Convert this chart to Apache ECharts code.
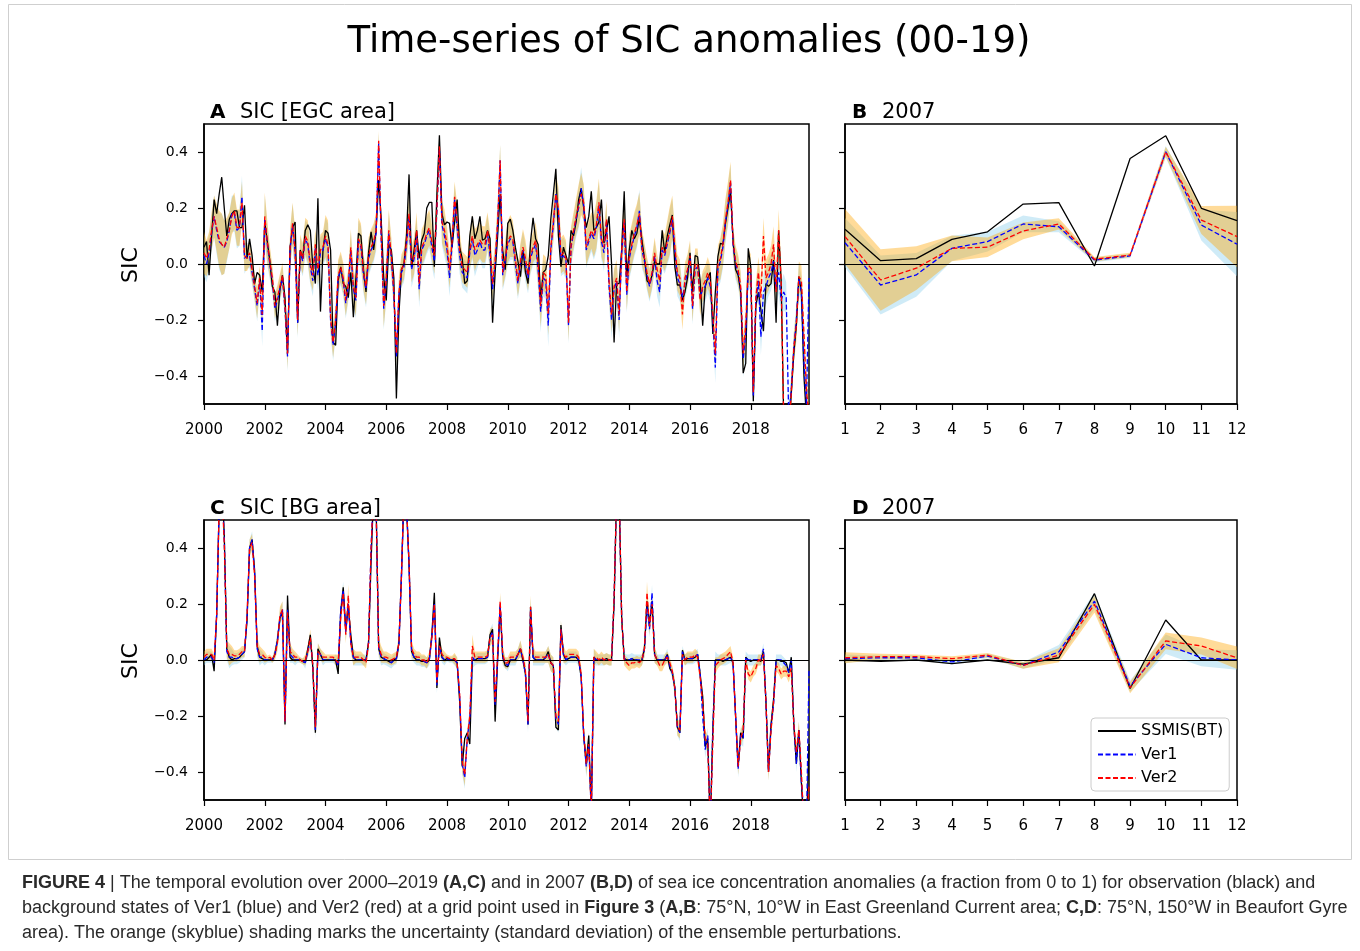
<!DOCTYPE html>
<html><head><meta charset="utf-8">
<script src="https://cdn.jsdelivr.net/npm/echarts@6/dist/echarts.min.js"></script>
<style>html,body{margin:0;padding:0;background:#fff}#c{width:1360px;height:951px}</style>
</head><body><div id="c"></div>
<script>
// ---------- DATA ----------
const startYear = 2000, nYears = 20;
const monthCats = [];
for (let y = startYear; y < startYear + nYears; y++) for (let m = 1; m <= 12; m++) monthCats.push(y + '-' + (m < 10 ? '0' + m : m));
const monthNums = ['1','2','3','4','5','6','7','8','9','10','11','12'];
const yTicks = [-0.4, -0.2, 0, 0.2, 0.4];

// Panel A (EGC area) monthly anomalies 2000-2019
const obsA = [
0.06,0.08,-0.04,0.10,0.23,0.18,0.25,0.31,0.20,0.10,
0.16,0.18,0.19,0.19,0.13,0.13,0.21,0.02,0.09,0.03,
-0.07,-0.03,-0.04,-0.10,0.15,0.08,0.01,-0.08,-0.10,-0.22,
-0.09,-0.04,-0.12,-0.32,0.06,0.13,0.15,-0.21,0.05,0.02,
0.12,0.14,0.12,-0.01,-0.07,0.235,-0.17,0.05,0.12,0.11,
0.05,-0.28,-0.29,-0.06,-0.01,-0.07,-0.08,-0.12,-0.03,-0.19,
-0.05,0.11,0.10,-0.02,-0.10,0.04,0.115,0.05,0.12,0.30,
0.16,-0.05,-0.13,0.07,0.05,-0.05,-0.48,-0.18,-0.02,0.00,
0.10,0.32,-0.01,0.05,0.12,0.02,0.085,0.11,0.20,0.22,
0.22,-0.01,0.25,0.46,0.18,0.14,0.15,0.145,0.06,0.15,
0.23,0.06,0.02,-0.07,-0.06,0.10,0.17,0.09,0.12,0.17,
0.085,0.09,0.12,0.09,-0.21,-0.03,0.10,0.25,0.05,-0.02,
0.145,0.16,0.12,0.06,0.01,-0.045,0.05,-0.03,-0.07,0.08,
0.165,0.09,0.07,-0.13,-0.03,-0.02,0.03,0.16,0.25,0.34,
0.10,-0.01,0.06,0.03,0.00,0.12,0.10,0.15,0.23,0.27,
0.20,0.13,0.17,0.26,0.12,0.13,0.15,0.23,0.075,0.12,
0.17,0.00,-0.28,-0.07,-0.07,0.05,0.26,-0.045,0.05,0.12,
0.09,0.11,0.165,0.085,0.02,-0.06,-0.07,-0.04,0.01,0.00,
0.00,0.12,0.04,0.10,0.14,0.175,-0.01,-0.075,-0.075,-0.13,
-0.10,-0.05,0.04,-0.10,0.03,0.026,-0.06,-0.22,-0.08,-0.05,
-0.03,-0.25,-0.10,0.026,0.074,0.07,0.145,0.20,0.26,0.085,
-0.02,-0.04,-0.10,-0.39,-0.355,0.056,-0.01,-0.49,-0.15,-0.10,
-0.165,-0.24,-0.07,-0.08,-0.07,0.014,-0.21,0.12,-0.06,-0.55,
-0.60,-0.60,-0.46,-0.32,-0.22,-0.045,-0.10,-0.40,-0.55,-0.60];
const ver1A = [
0.03,0.00,0.04,0.11,0.17,0.12,0.08,0.07,0.06,0.08,
0.12,0.18,0.18,0.12,0.13,0.24,0.02,0.03,0.03,-0.03,
-0.09,-0.15,-0.06,-0.24,0.16,0.07,0.00,-0.06,-0.16,-0.13,
-0.09,-0.05,-0.16,-0.33,0.05,0.14,0.04,-0.21,0.04,0.01,
0.09,0.07,-0.01,-0.06,0.06,-0.04,0.04,0.05,0.09,0.06,
-0.20,-0.29,-0.21,-0.05,-0.02,-0.06,-0.14,-0.08,0.05,-0.09,
-0.13,0.08,0.06,-0.04,-0.09,0.02,0.05,0.07,0.11,0.43,
0.09,-0.16,-0.06,0.11,0.02,-0.11,-0.33,-0.11,-0.03,-0.01,
0.07,0.17,-0.02,0.02,0.10,-0.09,0.05,0.07,0.10,0.12,
0.06,0.01,0.19,0.41,0.14,0.10,0.05,-0.05,0.07,0.23,
0.13,0.03,-0.03,-0.04,-0.05,0.04,0.09,0.03,0.05,0.08,
0.05,0.05,0.11,0.03,-0.09,0.00,0.14,0.37,-0.04,0.01,
0.07,0.09,0.08,0.00,-0.07,0.00,0.05,0.00,-0.05,0.02,
0.05,0.07,-0.02,-0.17,-0.05,-0.06,-0.22,0.05,0.14,0.25,
0.19,0.02,0.03,0.01,-0.22,0.06,0.11,0.16,0.20,0.27,
0.21,0.05,0.08,0.11,0.09,0.13,0.21,0.08,0.04,0.15,
-0.08,-0.20,-0.09,-0.06,-0.20,0.04,0.15,-0.11,0.02,0.06,
0.10,0.13,0.19,0.05,0.01,-0.04,-0.08,-0.04,0.03,-0.06,
-0.10,0.05,0.03,0.07,0.11,0.16,0.05,-0.05,-0.07,-0.12,
-0.07,-0.03,0.02,-0.16,-0.02,-0.01,-0.12,-0.09,-0.08,-0.05,
-0.08,-0.20,-0.37,-0.02,0.01,0.06,0.15,0.21,0.29,0.07,
0.00,-0.03,-0.09,-0.34,-0.25,-0.03,-0.03,-0.47,-0.13,-0.06,
-0.26,-0.10,-0.08,-0.05,-0.03,0.01,-0.09,-0.03,-0.13,-0.10,
-0.12,-0.55,-0.45,-0.30,-0.20,-0.05,-0.10,-0.35,-0.50,-0.05];
const ver2A = [
0.04,0.02,0.05,0.12,0.17,0.13,0.09,0.07,0.06,0.09,
0.12,0.17,0.19,0.13,0.13,0.22,0.03,0.02,0.04,-0.02,
-0.08,-0.14,-0.05,-0.18,0.17,0.08,0.01,-0.05,-0.15,-0.12,
-0.08,-0.04,-0.15,-0.32,0.06,0.145,0.05,-0.20,0.05,0.02,
0.10,0.08,0.00,-0.04,0.07,-0.02,0.05,0.06,0.10,0.07,
-0.19,-0.28,-0.20,-0.04,-0.01,-0.05,-0.13,-0.07,0.06,-0.08,
-0.12,0.09,0.07,-0.03,-0.08,0.03,0.06,0.08,0.12,0.44,
0.10,-0.15,-0.05,0.12,0.03,-0.10,-0.32,-0.10,-0.02,0.00,
0.08,0.18,0.00,0.03,0.12,-0.07,0.06,0.08,0.11,0.13,
0.08,0.03,0.20,0.42,0.15,0.12,0.07,-0.02,0.08,0.24,
0.15,0.05,-0.01,-0.02,-0.03,0.05,0.10,0.05,0.07,0.085,
0.07,0.07,0.12,0.05,-0.07,0.01,0.15,0.37,-0.03,0.02,
0.08,0.10,0.09,0.02,-0.06,0.01,0.06,0.02,-0.04,0.03,
0.06,0.085,0.00,-0.15,-0.03,-0.04,-0.18,0.06,0.15,0.25,
0.20,0.03,0.04,0.02,-0.21,0.07,0.12,0.17,0.21,0.25,
0.22,0.06,0.09,0.12,0.10,0.14,0.22,0.09,0.06,0.16,
-0.06,-0.18,-0.08,-0.05,-0.18,0.05,0.16,-0.10,0.03,0.07,
0.11,0.14,0.18,0.06,0.02,-0.03,-0.07,-0.03,0.04,-0.02,
-0.06,0.06,0.04,0.08,0.12,0.17,0.06,-0.03,-0.05,-0.18,
-0.05,-0.02,0.03,-0.15,0.00,0.00,-0.13,-0.08,-0.06,-0.03,
-0.06,-0.18,-0.32,0.00,0.02,0.07,0.16,0.22,0.30,0.08,
0.01,-0.02,-0.08,-0.32,-0.22,-0.01,-0.02,-0.46,-0.12,-0.03,
-0.12,0.10,-0.05,-0.03,0.00,0.07,-0.10,0.12,-0.06,-0.55,
-0.60,-0.60,-0.46,-0.30,-0.22,-0.045,-0.06,-0.25,-0.45,-0.55];
const sdA = [
0.075,0.065,0.065,0.065,0.075,0.085,0.10,0.11,0.095,0.075,0.065,0.065,0.065,0.065,0.065,0.075,0.055,0.045,0.045,0.045,
0.045,0.055,0.045,0.055,0.085,0.075,0.055,0.045,0.045,0.045,0.045,0.045,0.045,0.055,0.065,0.075,0.075,0.055,0.055,0.055,
0.065,0.075,0.065,0.055,0.055,0.055,0.055,0.055,0.075,0.085,0.055,0.055,0.055,0.055,0.055,0.055,0.055,0.055,0.065,0.065,
0.065,0.075,0.075,0.065,0.065,0.065,0.065,0.065,0.065,0.035,0.075,0.075,0.075,0.075,0.065,0.055,0.045,0.055,0.055,0.055,
0.065,0.075,0.065,0.065,0.065,0.065,0.065,0.065,0.065,0.065,0.065,0.065,0.065,0.045,0.075,0.075,0.065,0.065,0.065,0.055,
0.065,0.065,0.055,0.055,0.055,0.065,0.075,0.075,0.065,0.065,0.065,0.065,0.065,0.065,0.065,0.065,0.075,0.055,0.055,0.065,
0.075,0.075,0.065,0.055,0.055,0.065,0.065,0.065,0.055,0.055,0.055,0.065,0.075,0.075,0.065,0.065,0.075,0.065,0.065,0.075,
0.075,0.065,0.065,0.065,0.065,0.065,0.065,0.065,0.075,0.075,0.065,0.065,0.065,0.065,0.075,0.085,0.085,0.065,0.065,0.065,
0.065,0.065,0.065,0.065,0.065,0.075,0.075,0.065,0.075,0.075,0.075,0.075,0.075,0.065,0.055,0.055,0.055,0.055,0.055,0.055,
0.055,0.065,0.065,0.075,0.085,0.075,0.065,0.065,0.065,0.055,0.055,0.055,0.055,0.055,0.055,0.055,0.055,0.055,0.055,0.055,
0.055,0.055,0.055,0.065,0.075,0.075,0.075,0.075,0.065,0.055,0.055,0.055,0.055,0.065,0.065,0.065,0.055,0.045,0.055,0.055,
0.065,0.065,0.065,0.065,0.065,0.065,0.065,0.075,0.065,0.065,0.055,0.055,0.055,0.055,0.055,0.055,0.055,0.055,0.055,0.055];

// Panel C (BG area) monthly anomalies 2000-2019
const obsC = [
0.00,0.00,0.01,0.02,-0.04,0.16,0.55,0.65,0.45,0.04,
0.01,0.00,0.005,0.005,0.01,0.02,0.03,0.14,0.40,0.43,
0.32,0.05,0.01,0.005,0.00,0.00,0.00,0.00,0.02,0.07,
0.15,0.17,-0.23,0.23,0.01,0.00,0.00,0.00,0.00,-0.005,
-0.01,0.04,0.09,-0.03,-0.26,0.04,0.02,0.00,0.00,0.00,
0.00,0.00,0.00,-0.05,0.17,0.26,0.11,0.19,0.09,0.01,
0.00,0.00,0.00,0.00,0.00,0.06,0.35,0.60,0.55,0.04,
0.01,0.005,0.00,-0.005,-0.01,0.00,0.005,0.06,0.30,0.60,
0.55,0.34,0.03,0.01,0.00,0.00,-0.005,-0.005,-0.01,0.00,
0.09,0.24,-0.10,0.08,0.01,0.00,0.005,0.00,0.00,0.00,
-0.01,-0.15,-0.38,-0.28,-0.26,-0.30,0.00,0.00,0.005,0.005,
0.005,0.005,0.01,0.09,0.11,-0.22,0.00,0.19,0.01,-0.02,
-0.024,0.00,0.00,0.00,0.02,0.04,0.00,-0.05,-0.23,0.19,
0.01,0.00,0.00,0.00,0.00,0.01,0.03,-0.01,-0.02,-0.24,
-0.25,0.125,0.02,0.00,0.005,0.01,0.01,0.01,0.00,-0.06,
-0.27,-0.37,-0.27,-0.55,0.01,0.00,0.00,0.00,0.00,0.005,
0.00,0.00,0.20,0.60,0.60,0.15,0.005,0.00,0.00,0.005,
0.00,0.00,-0.005,0.00,0.04,0.21,0.13,0.21,0.02,0.00,
0.00,0.00,0.00,0.02,-0.03,-0.045,-0.10,-0.24,-0.26,0.035,
0.00,0.005,0.005,0.005,0.01,0.02,-0.05,-0.13,-0.31,-0.28,
-0.60,-0.25,0.00,0.00,0.00,-0.005,0.00,0.005,0.01,-0.01,
-0.20,-0.38,-0.26,-0.28,0.01,0.00,-0.005,0.00,0.00,0.00,
-0.005,0.03,-0.15,-0.40,-0.23,-0.14,0.00,0.00,-0.005,-0.005,
-0.01,-0.045,0.01,-0.23,-0.37,-0.25,-0.44,-0.60,-0.60,-0.30];
const ver1C = [
0.00,0.01,0.01,0.01,-0.01,0.16,0.55,0.63,0.44,0.03,
0.01,0.01,0.005,0.005,0.01,0.02,0.03,0.15,0.40,0.43,
0.31,0.04,0.01,0.01,0.00,0.00,0.00,0.00,0.02,0.07,
0.15,0.18,-0.22,0.18,0.02,0.01,0.00,0.00,0.00,-0.005,
-0.01,0.03,0.07,-0.02,-0.25,0.03,0.02,0.00,0.00,0.00,
0.00,0.00,0.00,-0.02,0.18,0.25,0.10,0.20,0.06,0.01,
0.00,0.00,0.00,0.00,0.00,0.06,0.40,0.60,0.55,0.04,
0.01,0.005,0.00,-0.005,-0.01,0.00,0.005,0.06,0.30,0.60,
0.55,0.34,0.03,0.01,0.00,0.00,-0.005,-0.005,-0.01,0.00,
0.08,0.20,-0.09,0.05,0.01,0.00,0.005,0.00,0.00,0.00,
-0.01,-0.13,-0.37,-0.42,-0.28,-0.21,0.01,0.00,0.005,0.005,
0.005,0.005,0.01,0.08,0.10,-0.16,0.01,0.20,0.01,-0.01,
-0.02,0.00,0.00,0.00,0.02,0.04,0.00,-0.05,-0.23,0.18,
0.01,0.00,0.00,0.00,0.00,0.01,0.02,-0.01,-0.02,-0.21,
-0.23,0.11,0.02,0.00,0.01,0.01,0.01,0.01,0.00,-0.06,
-0.27,-0.38,-0.30,-0.55,0.01,0.00,0.00,0.00,0.00,0.005,
0.00,0.00,0.21,0.60,0.60,0.15,0.005,0.00,0.00,0.005,
0.00,0.00,0.00,0.00,0.04,0.19,0.11,0.24,0.02,0.00,
0.00,0.00,0.00,0.02,-0.02,-0.045,-0.10,-0.24,-0.26,0.03,
0.00,0.005,0.005,0.005,0.01,0.02,-0.05,-0.20,-0.32,-0.27,
-0.60,-0.25,0.00,0.00,0.00,0.00,0.00,0.005,0.01,-0.01,
-0.20,-0.39,-0.27,-0.28,0.01,0.00,0.00,0.00,0.00,0.00,
0.00,0.04,-0.15,-0.40,-0.24,-0.16,0.00,0.00,0.00,-0.01,
-0.02,-0.045,0.00,-0.23,-0.37,-0.25,-0.44,-0.55,-0.60,-0.03];
const ver2C = [
0.01,0.02,0.02,0.02,0.00,0.16,0.55,0.62,0.42,0.04,
0.02,0.02,0.015,0.015,0.02,0.03,0.03,0.16,0.40,0.42,
0.30,0.05,0.02,0.02,0.01,0.005,0.01,0.00,0.02,0.06,
0.16,0.18,-0.22,0.17,0.03,0.02,0.01,0.01,0.00,-0.005,
0.00,0.03,0.08,-0.02,-0.24,0.03,0.02,0.01,0.01,0.01,
0.01,0.01,0.00,-0.01,0.15,0.24,0.09,0.23,0.06,0.01,
0.01,0.01,0.01,0.00,-0.01,0.06,0.40,0.60,0.55,0.05,
0.02,0.01,0.01,0.005,0.00,0.005,0.01,0.06,0.30,0.60,
0.55,0.35,0.04,0.02,0.01,0.01,0.00,0.00,-0.01,0.01,
0.08,0.20,-0.08,0.05,0.02,0.01,0.01,0.005,0.005,0.005,
-0.01,-0.12,-0.36,-0.41,-0.28,-0.20,0.05,0.01,0.01,0.01,
0.01,0.01,0.015,0.08,0.09,-0.15,0.02,0.21,0.02,-0.01,
-0.01,0.01,0.01,0.01,0.02,0.04,0.01,-0.04,-0.22,0.19,
0.02,0.01,0.01,0.01,0.01,0.01,0.02,-0.01,-0.02,-0.20,
-0.22,0.11,0.02,0.01,0.02,0.02,0.02,0.02,0.01,-0.05,
-0.26,-0.37,-0.30,-0.55,0.01,0.01,0.00,0.01,0.00,0.005,
0.00,0.00,0.22,0.60,0.60,0.15,0.00,-0.01,-0.02,-0.01,
-0.01,-0.005,-0.01,0.00,0.04,0.24,0.12,0.20,0.02,0.00,
-0.02,-0.02,0.00,0.01,-0.01,-0.04,-0.10,-0.24,-0.25,0.02,
0.00,0.01,0.01,0.01,0.02,0.01,-0.06,-0.15,-0.28,-0.30,
-0.60,-0.30,-0.02,-0.01,0.00,0.005,0.01,0.02,0.03,-0.01,
-0.20,-0.38,-0.28,-0.25,0.00,-0.05,-0.06,-0.04,-0.03,0.00,
0.00,0.02,-0.15,-0.40,-0.25,-0.15,-0.02,-0.03,-0.05,-0.04,
-0.04,-0.06,-0.03,-0.23,-0.33,-0.25,-0.40,-0.60,-0.60,-0.45];
const sdC = [
0.02,0.02,0.02,0.02,0.02,0.02,0.03,0.03,0.03,0.03,0.04,0.03,0.02,0.02,0.02,0.02,0.02,0.03,0.03,0.03,
0.03,0.03,0.03,0.02,0.02,0.01,0.01,0.01,0.02,0.03,0.03,0.03,0.03,0.03,0.03,0.02,0.02,0.01,0.01,0.01,
0.02,0.02,0.03,0.03,0.03,0.03,0.02,0.02,0.01,0.01,0.01,0.01,0.02,0.03,0.03,0.03,0.03,0.04,0.03,0.03,
0.02,0.02,0.02,0.02,0.02,0.03,0.03,0.03,0.03,0.03,0.03,0.02,0.02,0.02,0.02,0.02,0.02,0.03,0.03,0.03,
0.03,0.03,0.03,0.02,0.02,0.02,0.02,0.02,0.02,0.02,0.03,0.03,0.03,0.03,0.02,0.02,0.01,0.01,0.01,0.02,
0.02,0.03,0.04,0.04,0.03,0.03,0.04,0.02,0.02,0.02,0.02,0.02,0.02,0.03,0.03,0.03,0.02,0.03,0.03,0.02,
0.02,0.02,0.02,0.02,0.02,0.03,0.02,0.03,0.03,0.04,0.03,0.02,0.02,0.02,0.02,0.02,0.03,0.03,0.03,0.03,
0.03,0.03,0.03,0.02,0.02,0.02,0.02,0.02,0.02,0.03,0.03,0.04,0.04,0.04,0.03,0.02,0.02,0.02,0.02,0.02,
0.02,0.02,0.03,0.03,0.03,0.03,0.02,0.02,0.02,0.02,0.02,0.02,0.02,0.02,0.03,0.04,0.03,0.03,0.03,0.02,
0.02,0.02,0.02,0.02,0.02,0.02,0.03,0.03,0.03,0.02,0.02,0.02,0.02,0.02,0.02,0.02,0.03,0.03,0.03,0.03,
0.03,0.03,0.03,0.02,0.02,0.02,0.02,0.02,0.02,0.02,0.03,0.03,0.03,0.03,0.02,0.02,0.02,0.02,0.02,0.02,
0.02,0.02,0.03,0.03,0.03,0.03,0.02,0.02,0.02,0.02,0.02,0.02,0.02,0.03,0.03,0.03,0.03,0.03,0.03,0.03];

// Panel B (EGC, 2007) and D (BG, 2007)
const obsB  = [0.124,0.012,0.019,0.088,0.115,0.214,0.219,-0.007,0.377,0.458,0.199,0.155];
const ver1B = [0.076,-0.075,-0.039,0.056,0.080,0.143,0.133,0.014,0.029,0.401,0.139,0.071];
const ver2B = [0.098,-0.057,-0.015,0.056,0.060,0.118,0.143,0.017,0.032,0.401,0.157,0.098];
const sd1B  = [0.088,0.105,0.078,0.045,0.035,0.030,0.020,0.008,0.008,0.020,0.055,0.115];
const sd2B  = [0.098,0.110,0.078,0.046,0.035,0.030,0.020,0.008,0.008,0.018,0.050,0.110];
const obsD  = [0.000,-0.005,0.000,-0.013,0.000,-0.015,0.008,0.237,-0.102,0.143,0.000,0.000];
const ver1D = [0.005,0.008,0.008,-0.007,0.014,-0.019,0.029,0.210,-0.093,0.056,0.008,0.000];
const ver2D = [0.008,0.012,0.012,0.005,0.017,-0.019,0.017,0.199,-0.099,0.068,0.050,0.008];
const sd1D  = [0.015,0.008,0.008,0.008,0.008,0.012,0.025,0.030,0.020,0.035,0.030,0.035];
const sd2D  = [0.020,0.010,0.008,0.008,0.008,0.012,0.025,0.030,0.020,0.030,0.030,0.040];

// ---------- CHART ----------
const FONT = 'DejaVu Sans';
const chart = echarts.init(document.getElementById('c'), null, {renderer: 'canvas'});
const grids = [
  {left: 204, top: 124, width: 605, height: 280},
  {left: 845, top: 124, width: 392, height: 280},
  {left: 204, top: 520, width: 605, height: 280},
  {left: 845, top: 520, width: 392, height: 280}
];
const fmtY = v => (v < 0 ? '\u2212' : '') + Math.abs(v).toFixed(1);
function xAx(i, monthly) {
  return {
    type: 'category', gridIndex: i, data: monthly ? monthCats : monthNums, boundaryGap: false,
    axisLine: {show: true, onZero: false, lineStyle: {color: '#000', width: 1.5}},
    axisTick: {show: true, interval: monthly ? 23 : 0, length: 6, lineStyle: {color: '#000', width: 1.2}},
    axisLabel: {interval: monthly ? 23 : 0, formatter: monthly ? (v => v.slice(0, 4)) : null,
      fontSize: 15, color: '#000', fontFamily: FONT, margin: 19},
    splitLine: {show: false}
  };
}
function yAx(i, labels) {
  return {
    type: 'value', gridIndex: i, min: -0.5, max: 0.5,
    axisLine: {show: true, lineStyle: {color: '#000', width: 1.5}},
    axisTick: {show: true, customValues: yTicks, length: 6, lineStyle: {color: '#000', width: 1.2}},
    axisLabel: {show: labels, customValues: yTicks, formatter: fmtY, fontSize: 14, color: '#000', fontFamily: FONT, margin: 16},
    splitLine: {show: false}
  };
}
function band(i, mean, sd, color, key) {
  const lower = mean.map((m, k) => m - sd[k]);
  const width = sd.map(s => 2 * s);
  const common = {type: 'line', xAxisIndex: i, yAxisIndex: i, stack: key, stackStrategy: 'all',
    symbol: 'none', silent: true, z: 1, lineStyle: {width: 0, opacity: 0}, emphasis: {disabled: true}};
  return [
    Object.assign({}, common, {name: key + 'lo', data: lower}),
    Object.assign({}, common, {name: key + 'w', data: width, areaStyle: {color: color, opacity: 0.4}})
  ];
}
function lines(i, obs, v1, v2) {
  return [
    {type: 'line', name: 'SSMIS(BT)', xAxisIndex: i, yAxisIndex: i, data: obs, symbol: 'none', z: 3,
      lineStyle: {color: '#000', width: 1.3}, itemStyle: {color: '#000'},
      markLine: {silent: true, symbol: ['none', 'none'], label: {show: false},
        lineStyle: {color: '#000', width: 1.1, type: 'solid'}, data: [{yAxis: 0}], animation: false}},
    {type: 'line', name: 'Ver1', xAxisIndex: i, yAxisIndex: i, data: v1, symbol: 'none', z: 4,
      lineStyle: {color: '#0000ff', width: 1.3, type: [5, 2.5]}, itemStyle: {color: '#0000ff'}},
    {type: 'line', name: 'Ver2', xAxisIndex: i, yAxisIndex: i, data: v2, symbol: 'none', z: 5,
      lineStyle: {color: '#ff0000', width: 1.3, type: [5, 2.5]}, itemStyle: {color: '#ff0000'}}
  ];
}
const series = [].concat(
  band(0, ver1A, sdA, '#87ceeb', 'a1'), band(0, ver2A, sdA, '#ffa500', 'a2'), lines(0, obsA, ver1A, ver2A),
  band(1, ver1B, sd1B, '#87ceeb', 'b1'), band(1, ver2B, sd2B, '#ffa500', 'b2'), lines(1, obsB, ver1B, ver2B),
  band(2, ver1C, sdC, '#87ceeb', 'c1'), band(2, ver2C, sdC, '#ffa500', 'c2'), lines(2, obsC, ver1C, ver2C),
  band(3, ver1D, sd1D, '#87ceeb', 'd1'), band(3, ver2D, sd2D, '#ffa500', 'd2'), lines(3, obsD, ver1D, ver2D)
);

const capFont = '"Liberation Sans Narrow", "Liberation Sans", Arial, sans-serif';
const capStyle = (txt, y) => ({type: 'text', left: 22, top: y, silent: true,
  style: {text: txt, fontSize: 18, fontFamily: capFont, fill: '#2a2a2a',
    rich: {b: {fontWeight: 'bold', fontSize: 18, fontFamily: capFont, fill: '#2a2a2a'}}}});
function panelTitle(x, y, letter, txt) {
  return [
    {type: 'text', x: x, y: y, silent: true, style: {text: letter, fontSize: 20, fontWeight: 'bold', fontFamily: FONT, fill: '#000', textVerticalAlign: 'middle'}},
    {type: 'text', x: x + 30, y: y, silent: true, style: {text: txt, fontSize: 21, fontFamily: FONT, fill: '#000', textVerticalAlign: 'middle'}}
  ];
}
const graphic = [].concat(
  [{type: 'rect', shape: {x: 8.5, y: 4.5, width: 1343, height: 855}, silent: true, style: {fill: 'none', stroke: '#cfcfcf', lineWidth: 1}},
   {type: 'text', x: 689, y: 42, silent: true, style: {text: 'Time-series of SIC anomalies (00-19)', fontSize: 37, fontFamily: FONT, fill: '#000', textAlign: 'center', textVerticalAlign: 'middle'}},
   {type: 'text', x: 131, y: 265, rotation: Math.PI / 2, silent: true, style: {text: 'SIC', fontSize: 22, fontFamily: FONT, fill: '#000', textAlign: 'center', textVerticalAlign: 'middle'}},
   {type: 'text', x: 131, y: 661, rotation: Math.PI / 2, silent: true, style: {text: 'SIC', fontSize: 22, fontFamily: FONT, fill: '#000', textAlign: 'center', textVerticalAlign: 'middle'}}],
  panelTitle(210, 113, 'A', 'SIC [EGC area]'),
  panelTitle(852, 113, 'B', '2007'),
  panelTitle(210, 509, 'C', 'SIC [BG area]'),
  panelTitle(852, 509, 'D', '2007'),
  [capStyle('{b|FIGURE 4} | The temporal evolution over 2000\u20132019 {b|(A,C)} and in 2007 {b|(B,D)} of sea ice concentration anomalies (a fraction from 0 to 1) for observation (black) and', 874),
   capStyle('background states of Ver1 (blue) and Ver2 (red) at a grid point used in {b|Figure 3} ({b|A,B}: 75\u00b0N, 10\u00b0W in East Greenland Current area; {b|C,D}: 75\u00b0N, 150\u00b0W in Beaufort Gyre', 899),
   capStyle('area). The orange (skyblue) shading marks the uncertainty (standard deviation) of the ensemble perturbations.', 924)]
);

chart.setOption({
  animation: false,
  backgroundColor: '#fff',
  grid: grids.map(g => Object.assign({show: true, borderColor: '#000', borderWidth: 1.5, backgroundColor: 'transparent', containLabel: false}, g)),
  xAxis: [xAx(0, true), xAx(1, false), xAx(2, true), xAx(3, false)],
  yAxis: [yAx(0, true), yAx(1, false), yAx(2, true), yAx(3, false)],
  legend: {
    data: ['SSMIS(BT)', 'Ver1', 'Ver2'], orient: 'vertical', left: 1091, top: 718,
    itemWidth: 38, itemHeight: 14, itemGap: 7.5, padding: [5, 6, 5, 6],
    itemStyle: {opacity: 0},
    backgroundColor: 'rgba(255,255,255,0.85)', borderColor: '#cccccc', borderWidth: 1, borderRadius: 4,
    textStyle: {fontSize: 16, fontFamily: FONT, color: '#000'}, selectedMode: false
  },
  series: series,
  graphic: graphic
});
</script></body></html>
